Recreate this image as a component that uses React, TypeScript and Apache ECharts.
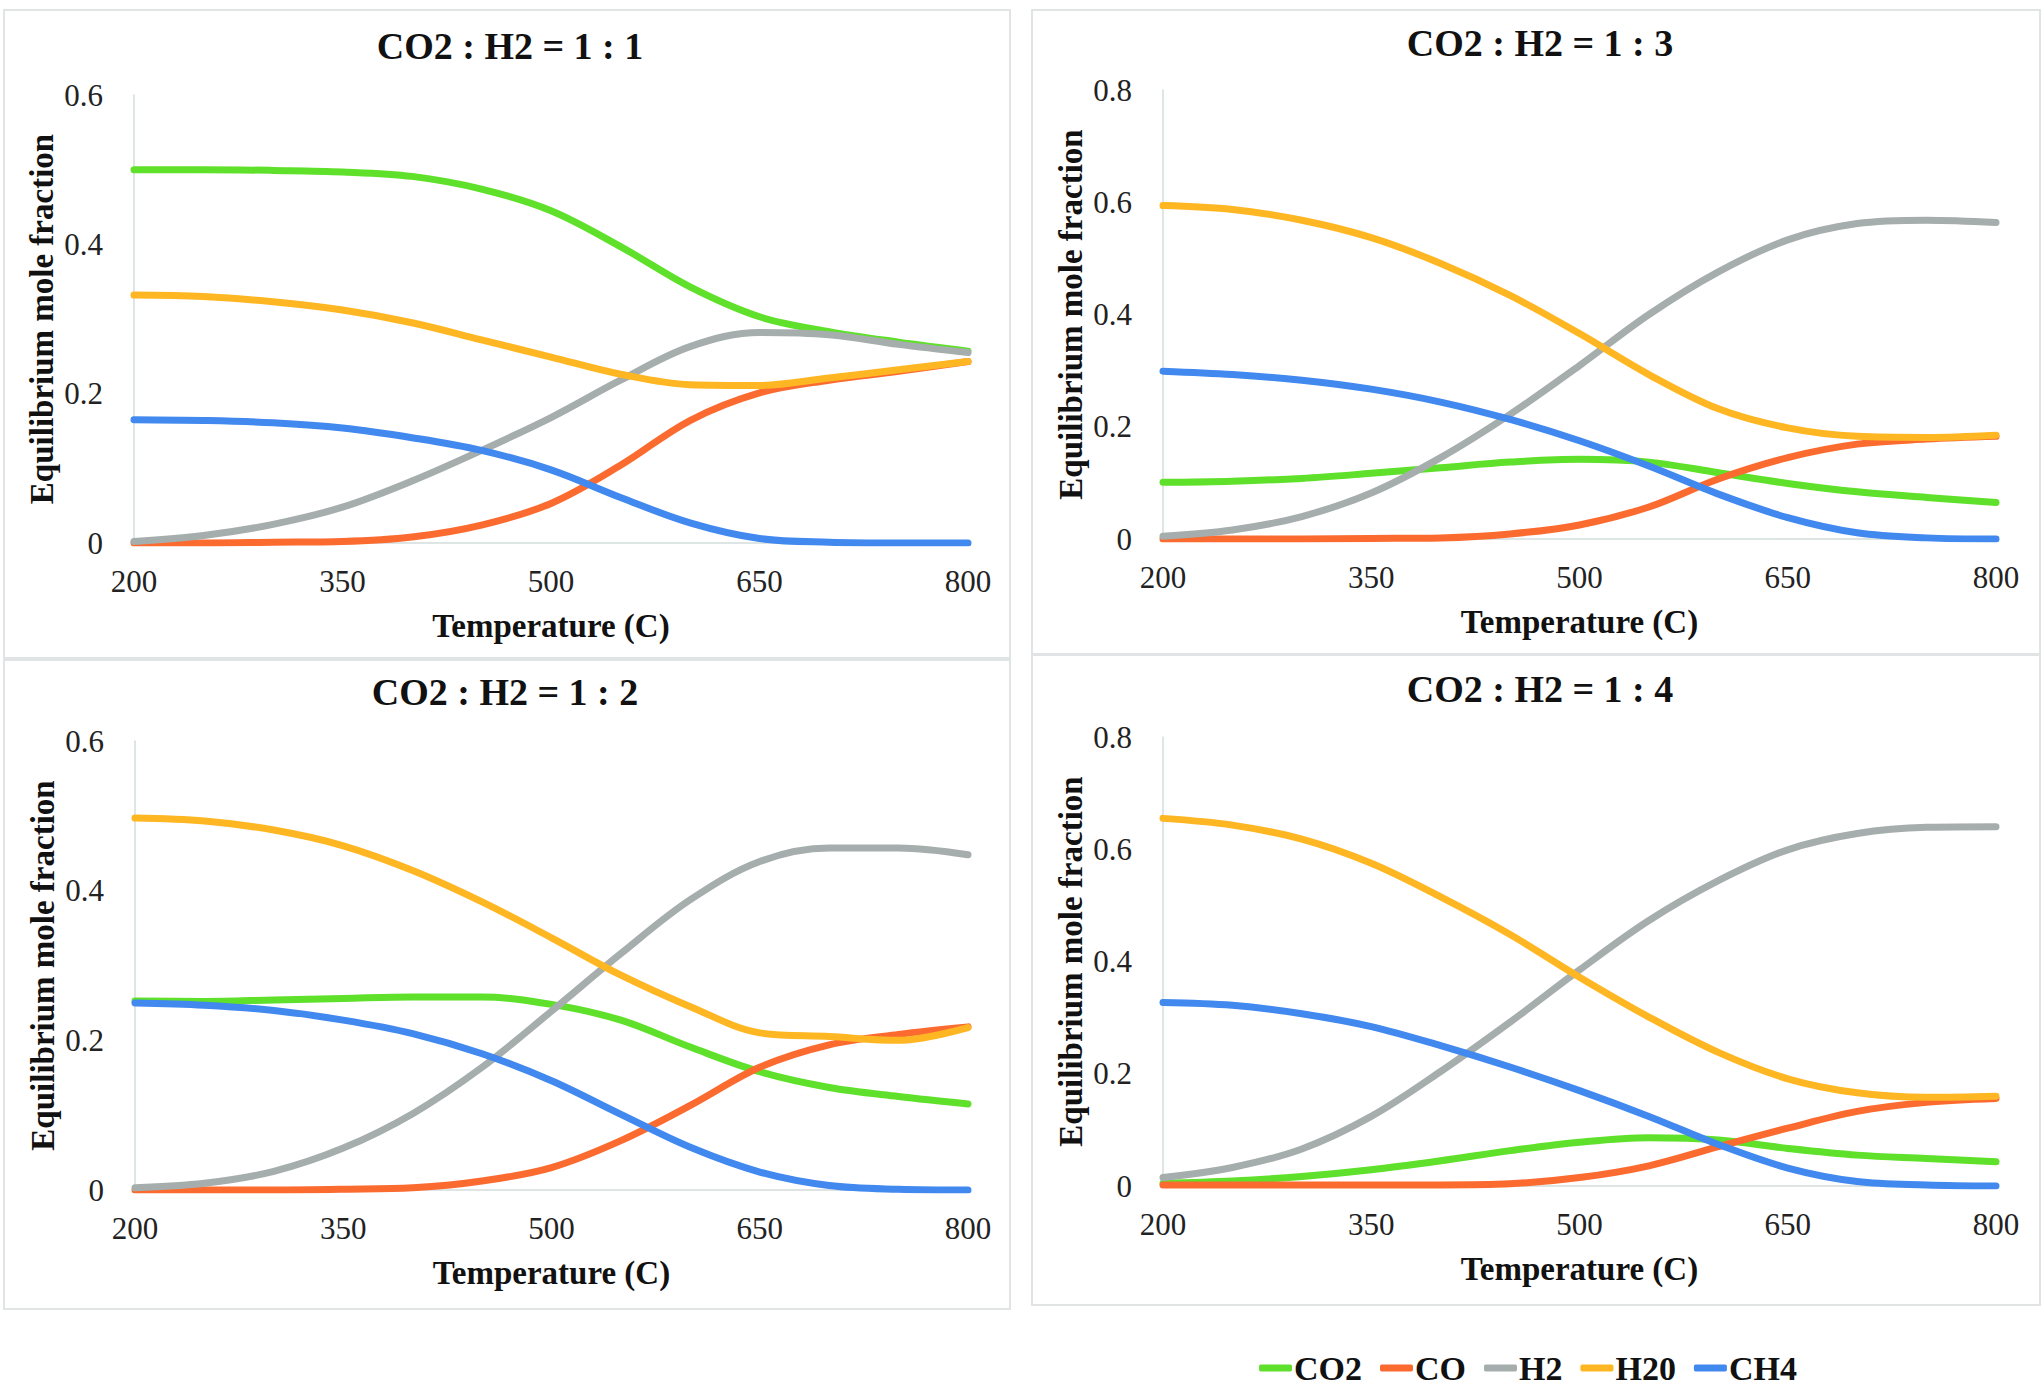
import React, { useEffect, useRef } from "react";
import * as echarts from "echarts";

const temps = [200, 250, 300, 350, 400, 450, 500, 550, 600, 650, 700, 750, 800];
const speciesNames = ["CO2", "CO", "H2", "H20", "CH4"];
const speciesColors = ["#5fe02a", "#fb6b30", "#a5aeac", "#ffb623", "#4188ef"];
const panelTitles = ["CO2 : H2 = 1 : 1", "CO2 : H2 = 1 : 3", "CO2 : H2 = 1 : 2", "CO2 : H2 = 1 : 4"];
const panelYMax = [0.6, 0.8, 0.6, 0.8];

// Panel 1 : 1
const r11_CO2 = [0.5, 0.5, 0.499, 0.497, 0.491, 0.474, 0.445, 0.397, 0.343, 0.303, 0.283, 0.269, 0.257];
const r11_CO = [0, 0, 0.001, 0.002, 0.008, 0.024, 0.053, 0.104, 0.164, 0.201, 0.218, 0.23, 0.243];
const r11_H2 = [0.002, 0.01, 0.025, 0.048, 0.083, 0.124, 0.168, 0.218, 0.263, 0.282, 0.279, 0.266, 0.255];
const r11_H2O = [0.332, 0.33, 0.323, 0.312, 0.295, 0.272, 0.249, 0.226, 0.212, 0.211, 0.221, 0.232, 0.243];
const r11_CH4 = [0.165, 0.164, 0.161, 0.154, 0.141, 0.124, 0.098, 0.061, 0.027, 0.006, 0.001, 0, 0];

// Panel 1 : 3
const r13_CO2 = [0.101, 0.103, 0.108, 0.117, 0.127, 0.137, 0.142, 0.137, 0.118, 0.099, 0.084, 0.074, 0.065];
const r13_CO = [0, 0, 0, 0.001, 0.002, 0.009, 0.025, 0.057, 0.107, 0.145, 0.169, 0.178, 0.183];
const r13_H2 = [0.005, 0.016, 0.04, 0.082, 0.145, 0.222, 0.309, 0.4, 0.476, 0.533, 0.562, 0.568, 0.564];
const r13_H2O = [0.594, 0.587, 0.568, 0.537, 0.491, 0.434, 0.366, 0.293, 0.232, 0.198, 0.183, 0.181, 0.185];
const r13_CH4 = [0.299, 0.293, 0.283, 0.267, 0.244, 0.213, 0.175, 0.13, 0.08, 0.038, 0.011, 0.002, 0];

// Panel 1 : 2
const r12_CO2 = [0.2525, 0.252, 0.254, 0.256, 0.258, 0.258, 0.248, 0.227, 0.191, 0.158, 0.137, 0.125, 0.115];
const r12_CO = [0, 0, 0, 0.001, 0.003, 0.012, 0.03, 0.066, 0.113, 0.164, 0.194, 0.208, 0.218];
const r12_H2 = [0.003, 0.009, 0.025, 0.056, 0.102, 0.164, 0.239, 0.316, 0.388, 0.439, 0.457, 0.457, 0.448];
const r12_H2O = [0.497, 0.493, 0.481, 0.46, 0.427, 0.385, 0.337, 0.287, 0.245, 0.21, 0.205, 0.2, 0.217];
const r12_CH4 = [0.25, 0.247, 0.24, 0.227, 0.209, 0.182, 0.146, 0.101, 0.057, 0.024, 0.006, 0.001, 0];

// Panel 1 : 4
const r14_CO2 = [0.005, 0.009, 0.017, 0.029, 0.045, 0.063, 0.078, 0.086, 0.082, 0.067, 0.055, 0.049, 0.043];
const r14_CO = [0.002, 0.002, 0.002, 0.002, 0.002, 0.004, 0.015, 0.036, 0.07, 0.103, 0.133, 0.149, 0.156];
const r14_H2 = [0.015, 0.033, 0.066, 0.124, 0.204, 0.292, 0.385, 0.473, 0.544, 0.599, 0.628, 0.639, 0.64];
const r14_H2O = [0.655, 0.643, 0.618, 0.575, 0.515, 0.448, 0.372, 0.301, 0.238, 0.191, 0.166, 0.158, 0.16];
const r14_CH4 = [0.327, 0.322, 0.307, 0.284, 0.25, 0.212, 0.17, 0.124, 0.074, 0.032, 0.008, 0.002, 0];

const panelData = [
  [r11_CO2, r11_CO, r11_H2, r11_H2O, r11_CH4],
  [r13_CO2, r13_CO, r13_H2, r13_H2O, r13_CH4],
  [r12_CO2, r12_CO, r12_H2, r12_H2O, r12_CH4],
  [r14_CO2, r14_CO, r14_H2, r14_H2O, r14_CH4],
];

const FONT = "Liberation Serif, serif";

const grids = [
  { left: 134, top: 95, width: 834, height: 448 },
  { left: 1163, top: 90, width: 833, height: 449 },
  { left: 135, top: 741, width: 833, height: 449 },
  { left: 1163, top: 737, width: 833, height: 449 },
];
const panelBoxes = [
  { x: 4, y: 10, width: 1006, height: 648 },
  { x: 1032, y: 10, width: 1008, height: 644 },
  { x: 4, y: 660, width: 1006, height: 649 },
  { x: 1032, y: 655, width: 1008, height: 650 },
];
const titlePos = [
  { x: 505, y: 45 },
  { x: 1535, y: 42 },
  { x: 500, y: 691 },
  { x: 1535, y: 688 },
];

export default function App() {
  const ref = useRef<HTMLDivElement>(null);
  useEffect(() => {
    if (!ref.current) return;
    const chart = echarts.init(ref.current, undefined, { renderer: "svg" });

    const xAxis = grids.map((_, i) => ({
      type: "value",
      gridIndex: i,
      min: 200,
      max: 800,
      interval: 150,
      name: "Temperature (C)",
      nameLocation: "middle",
      nameGap: 66,
      nameTextStyle: { fontFamily: FONT, fontSize: 33, fontWeight: "bold", color: "#111" },
      axisLine: { show: true, lineStyle: { color: "#d3dcdc", width: 1.5 } },
      axisTick: { show: false },
      splitLine: { show: false },
      axisLabel: { fontFamily: FONT, fontSize: 31, color: "#222", margin: 23 },
    }));
    const yAxis = grids.map((_, i) => ({
      type: "value",
      gridIndex: i,
      min: 0,
      max: panelYMax[i],
      interval: 0.2,
      name: "Equilibrium mole fraction",
      nameLocation: "middle",
      nameGap: 76,
      nameRotate: 90,
      nameTextStyle: { fontFamily: FONT, fontSize: 33, fontWeight: "bold", color: "#111" },
      axisLine: { show: true, lineStyle: { color: "#d3dcdc", width: 1.5 } },
      axisTick: { show: false },
      splitLine: { show: false },
      axisLabel: {
        fontFamily: FONT,
        fontSize: 31,
        color: "#222",
        margin: 31,
        formatter: (v: number) => (v === 0 ? "0" : String(Math.round(v * 10) / 10)),
      },
    }));

    const series: any[] = [];
    panelData.forEach((arrs, pi) => {
      arrs.forEach((vals, si) => {
        series.push({
          type: "line",
          name: speciesNames[si],
          xAxisIndex: pi,
          yAxisIndex: pi,
          smooth: 0.35,
          showSymbol: false,
          symbol: "none",
          lineStyle: { color: speciesColors[si], width: 7, cap: "round", join: "round" },
          itemStyle: { color: speciesColors[si] },
          data: temps.map((t, k) => [t, vals[k]]),
          z: 2 + si,
        });
      });
    });

    chart.setOption({
      animation: false,
      backgroundColor: "#ffffff",
      title: panelTitles.map((t, i) => ({
        text: t,
        left: titlePos[i].x,
        top: titlePos[i].y - 23,
        textAlign: "center",
        textStyle: { fontFamily: FONT, fontSize: 38, fontWeight: "bold", color: "#111" },
      })),
      graphic: panelBoxes.map((b) => ({
        type: "rect",
        shape: { x: b.x, y: b.y, width: b.width, height: b.height },
        style: { fill: "none", stroke: "#e0e4e4", lineWidth: 2 },
        z: -10,
        silent: true,
      })),
      legend: {
        data: speciesNames.map((n) => ({ name: n, icon: "roundRect" })),
        left: 1254,
        top: 1346,
        itemWidth: 33,
        itemHeight: 7,
        itemGap: 18,
        textStyle: { fontFamily: FONT, fontSize: 34, fontWeight: "bold", color: "#111", padding: [0, 0, 0, -3] },
        selectedMode: false,
      },
      grid: grids.map((g) => ({ ...g, containLabel: false })),
      xAxis,
      yAxis,
      series,
    });
    return () => chart.dispose();
  }, []);
  return (
    <div
      ref={ref}
      style={{ position: "absolute", left: 0, top: 0, width: 2043, height: 1390, background: "#fff" }}
    />
  );
}
